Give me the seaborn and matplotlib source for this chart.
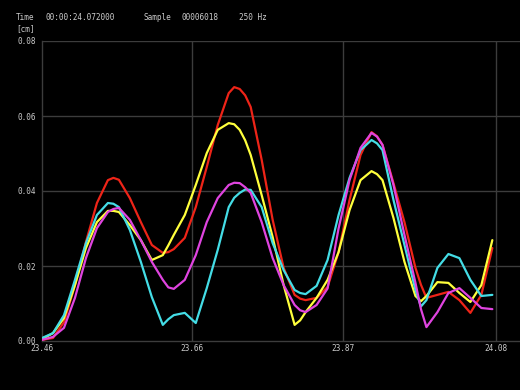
import numpy as np
import pandas as pd
import matplotlib
matplotlib.use("Agg")
import matplotlib.pyplot as plt
import seaborn as sns

# ---- data (time in s, displacement in cm) ----
times = [23.460, 23.475, 23.490, 23.505, 23.520, 23.535, 23.550, 23.5575, 23.565, 23.580, 23.595,
         23.610, 23.625, 23.6325, 23.640, 23.655, 23.670, 23.685, 23.700, 23.715, 23.7225, 23.730, 23.7375, 23.745,
         23.760, 23.775, 23.790, 23.805, 23.8125, 23.820, 23.835, 23.850, 23.865, 23.880, 23.895,
         23.910, 23.9175, 23.925, 23.940, 23.955, 23.970, 23.9775, 23.985, 24.000, 24.015, 24.030, 24.045, 24.060, 24.075]

red = [0.0003, 0.0008, 0.0050, 0.0149, 0.0264, 0.0368, 0.0429, 0.0435, 0.0430, 0.0381, 0.0317,
       0.0256, 0.0235, 0.0237, 0.0245, 0.0275, 0.0357, 0.0464, 0.0576, 0.0661, 0.0677, 0.0672, 0.0655, 0.0624,
       0.0483, 0.0323, 0.0195, 0.0123, 0.0113, 0.0109, 0.0115, 0.0144, 0.0237, 0.0376, 0.0496,
       0.0557, 0.0546, 0.0523, 0.0421, 0.0317, 0.0195, 0.0150, 0.0115, 0.0123, 0.0131, 0.0109, 0.0075, 0.0123, 0.0248]

yellow = [0.0005, 0.0021, 0.0061, 0.0149, 0.0248, 0.0317, 0.0347, 0.0347, 0.0344, 0.0309, 0.0269,
          0.0216, 0.0229, 0.0255, 0.0283, 0.0336, 0.0416, 0.0501, 0.0563, 0.0581, 0.0578, 0.0563, 0.0535, 0.0496,
          0.0389, 0.0277, 0.0149, 0.0043, 0.0055, 0.0077, 0.0115, 0.0163, 0.0237, 0.0349, 0.0429,
          0.0453, 0.0445, 0.0429, 0.0328, 0.0211, 0.0120, 0.0106, 0.0120, 0.0157, 0.0155, 0.0128, 0.0104, 0.0149, 0.0269]

magenta = [0.0003, 0.0011, 0.0035, 0.0115, 0.0221, 0.0301, 0.0344, 0.0352, 0.0355, 0.0323, 0.0269,
           0.0211, 0.0163, 0.0143, 0.0139, 0.0163, 0.0229, 0.0317, 0.0381, 0.0416, 0.0422, 0.0421, 0.0410, 0.0395,
           0.0317, 0.0221, 0.0149, 0.0096, 0.0082, 0.0077, 0.0096, 0.0140, 0.0300, 0.0429, 0.0515,
           0.0555, 0.0545, 0.0523, 0.0416, 0.0283, 0.0155, 0.0085, 0.0037, 0.0077, 0.0128, 0.0141, 0.0115, 0.0088, 0.0085]

cyan = [0.0008, 0.0021, 0.0069, 0.0163, 0.0261, 0.0336, 0.0368, 0.0366, 0.0357, 0.0296, 0.0211,
        0.0117, 0.0043, 0.0058, 0.0069, 0.0075, 0.0048, 0.0141, 0.0243, 0.0357, 0.0382, 0.0395, 0.0404, 0.0403,
        0.0357, 0.0261, 0.0189, 0.0136, 0.0128, 0.0125, 0.0147, 0.0216, 0.0336, 0.0435, 0.0509,
        0.0536, 0.0527, 0.0509, 0.0376, 0.0256, 0.0136, 0.0092, 0.0109, 0.0195, 0.0232, 0.0221, 0.0163, 0.0120, 0.0123]

x_ticks = [23.46, 23.665, 23.871, 24.08]
x_labels = ["23.46", "23.66", "23.87", "24.08"]
y_ticks = [0.00, 0.02, 0.04, 0.06, 0.08]
y_labels = ["0.00", "0.02", "0.04", "0.06", "0.08"]

series = {"red": red, "yellow": yellow, "cyan": cyan, "magenta": magenta}
palette = {"red": "#ee2418", "yellow": "#ffff3c", "magenta": "#e044e0", "cyan": "#44dde6"}

df = pd.concat(
    [pd.DataFrame({"t": times, "v": vals, "s": name}) for name, vals in series.items()],
    ignore_index=True,
)

# ---- figure ----
W, H = 520, 390
fig = plt.figure(figsize=(W / 100, H / 100), dpi=100, facecolor="black")
ax = fig.add_axes([42 / W, (H - 341) / H, (W - 42) / W, 300 / H])
ax.set_facecolor("black")

grid_c = "#3c3c3c"
for xt in x_ticks[1:]:
    ax.axvline(xt, color=grid_c, lw=1.0, zorder=0)
for yt in y_ticks[1:]:
    ax.axhline(yt, color=grid_c, lw=1.0, zorder=0)

sns.lineplot(data=df, x="t", y="v", hue="s", palette=palette, sort=False,
             legend=False, linewidth=1.6, ax=ax, zorder=3,
             solid_joinstyle="round", solid_capstyle="round")

ax.set_xlim(23.46, 23.46 + (W - 42) / 454 * 0.62)
ax.set_ylim(0.0, 0.08)
for side in ["top", "right"]:
    ax.spines[side].set_visible(False)
for side in ["left", "bottom"]:
    ax.spines[side].set_color(grid_c)
    ax.spines[side].set_linewidth(1.0)
ax.set_xlabel("")
ax.set_ylabel("")

mono = ["DejaVu Sans Mono"]
tc = "#cccccc"
ax.set_xticks(x_ticks)
ax.set_xticklabels(x_labels, family=mono, fontsize=5.6, color=tc)
ax.set_yticks(y_ticks)
ax.set_yticklabels(y_labels, family=mono, fontsize=5.6, color=tc)
ax.tick_params(axis="both", length=0)
ax.tick_params(axis="x", pad=2)
ax.tick_params(axis="y", pad=4)

def ftext(px, py, s):
    fig.text(px / W, 1 - py / H, s, family=mono, fontsize=5.6, color=tc,
             ha="left", va="center")

ftext(16, 17, "Time")
ftext(46, 17, "00:00:24.072000")
ftext(143, 17, "Sample")
ftext(182, 17, "00006018")
ftext(239, 17, "250 Hz")
ftext(16, 29, "[cm]")

fig.savefig("out.png", dpi=100, facecolor="black")
